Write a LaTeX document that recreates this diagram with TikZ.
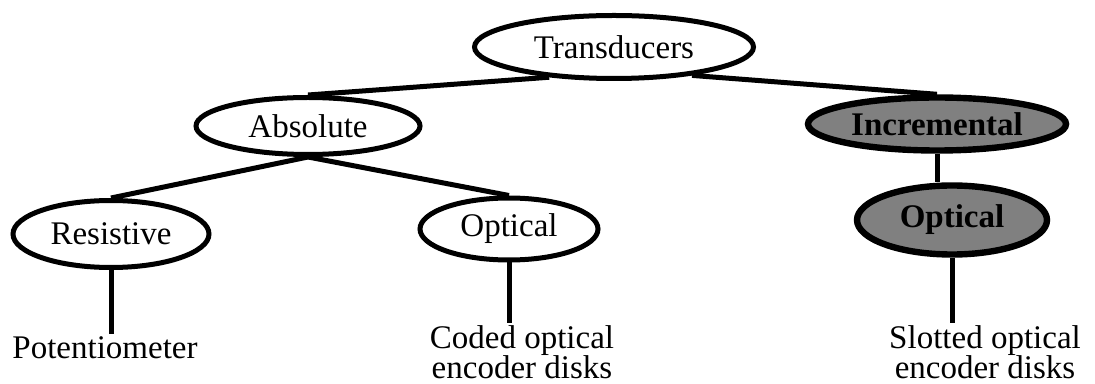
\documentclass[tikz,border=0pt]{standalone}
\usepackage{fontspec}
\setmainfont{Liberation Serif}
\usepackage{tikz}
\usetikzlibrary{shapes.geometric}
\tikzset{
 treenode/.style = {align=center, inner sep=0pt, text centered,
    font=\fontsize{16.5}{15}\selectfont},
  ov_w/.style = {treenode, ellipse, draw=black, line width=2.5pt,
    fill=white},% noeud blanc
  ov_g/.style = {ov_w, line width=3.2pt, fill=black!50,
    font=\fontsize{16.5}{15}\selectfont\bfseries},% noeud grise
  leaf/.style = {treenode, anchor=north}% texte des feuilles
}

\begin{document}
\begin{tikzpicture}[x=0.5pt,y=-0.5pt,line width=2.5pt]
  \useasboundingbox (0,0) rectangle (1095,384);
  % ovales
  \node [ov_w, minimum width=139.5pt, minimum height=31.5pt] (trans) at (614,47) {Transducers};
  \node [ov_w, minimum width=112pt, minimum height=28.5pt] (abs) at (308,126) {Absolute};
  \node [ov_g, minimum width=129pt, minimum height=26.5pt] (inc) at (937,124) {Incremental};
  \node [ov_w, minimum width=98pt, minimum height=33.5pt] (res) at (111,234) {Resistive};
  \node [ov_w, minimum width=89pt, minimum height=31pt] (opt) at (509,229) {Optical};
  \node [ov_g, minimum width=95pt, minimum height=34.5pt] (opt2) at (952,220) {Optical};
  % feuilles
  \node [leaf] (pot) at (105,334) {Potentiometer};
  \node [leaf] (coded) at (522,323) {Coded optical\\encoder disks};
  \node [leaf] (slot) at (985,323) {Slotted optical\\encoder disks};
  % branches
  \draw (trans.205) -- (abs.north);
  \draw (trans.-20) -- (inc.north);
  \draw (abs.south) -- (res.north);
  \draw (abs.south) -- (opt.north);
  \draw (inc.south) -- (inc.south |- opt2.north);
  \draw (res.south) -- (res.south |- pot.north);
  \draw (opt.south) -- (opt.south |- coded.north);
  \draw (opt2.south) -- (opt2.south |- slot.north);
\end{tikzpicture}
\end{document}
